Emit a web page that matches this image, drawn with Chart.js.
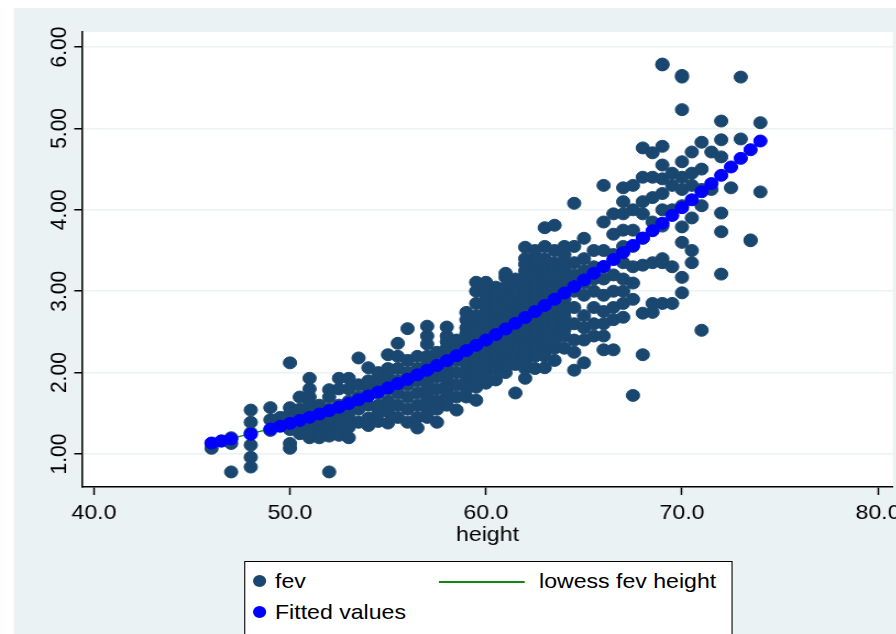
<!DOCTYPE html>
<html>
<head>
<meta charset="utf-8">
<title>fev vs height</title>
<script src="https://cdn.jsdelivr.net/npm/chart.js@4/dist/chart.umd.min.js"></script>
<style>
  html, body { margin: 0; padding: 0; background: #fff; width: 896px; height: 634px; overflow: hidden; }
  /* the whole picture is a little wider than tall, so stretch the drawing */
  #frame { position: absolute; left: 0; top: 0; width: 815px; height: 634px;
           transform: scaleX(1.1); transform-origin: 0 0;
           font-family: "Liberation Sans", Arial, sans-serif; color: #000; }
  #chart { position: absolute; left: 0; top: 0; }
  .key { position: absolute; left: 222px; top: 561px; width: 444px; height: 120px;
         background: #fff; border: 1.5px solid #000; box-sizing: border-box; }
  .key span { position: absolute; font-size: 21px; line-height: 24px; white-space: nowrap; }
  .dot { position: absolute; width: 12px; height: 12px; border-radius: 50%; }
  .line { position: absolute; height: 1.5px; background: #118811; }
</style>
</head>
<body>
<div id="frame">
  <canvas id="chart" width="815" height="634"></canvas>
  <div class="key">
    <div class="dot" style="left:7px; top:13px; background:#1a476f;"></div>
    <span style="left:27px; top:7px;">fev</span>
    <div class="line" style="left:176px; top:19px; width:78px;"></div>
    <span style="left:267px; top:7px;">lowess fev height</span>
    <div class="dot" style="left:7px; top:44px; background:#0000ff;"></div>
    <span style="left:27px; top:38px;">Fitted values</span>
  </div>
</div>
<script>
//======================================================================
// Data: fev by height, fitted values, lowess line.
//======================================================================

// Heights (inches) that have points.
var colHeight = [46, 46.5, 47, 48, 49, 49.5, 50, 50.5, 51, 51.5, 52, 52.5, 53, 53.5,
  54, 54.5, 55, 55.5, 56, 56.5, 57, 57.5, 58, 58.5, 59, 59.5, 60, 60.5, 61, 61.5,
  62, 62.5, 63, 63.5, 64, 64.5, 65, 65.5, 66, 66.5, 67, 67.5, 68, 68.5, 69, 69.5,
  70, 70.5, 71, 71.5, 72, 72.5, 73, 73.5, 74];

// fev values seen in each height column (same order as colHeight).
var colFev = [
  [1.07, 1.13],
  [1.16],
  [0.78, 1.13, 1.20],
  [0.84, 0.96, 1.11, 1.26, 1.39, 1.54],
  [1.29, 1.42, 1.57],
  [1.35, 1.45],
  [1.07, 1.13, 1.30, 1.38, 1.50, 1.57, 2.12],
  [1.25, 1.30, 1.40, 1.45, 1.55, 1.70],
  [1.20, 1.30, 1.40, 1.50, 1.62, 1.70, 1.80, 1.93],
  [1.20, 1.30, 1.35, 1.45, 1.60],
  [0.78, 1.22, 1.29, 1.35, 1.45, 1.55, 1.70, 1.79],
  [1.23, 1.35, 1.45, 1.60, 1.80, 1.93],
  [1.20, 1.33, 1.45, 1.55, 1.65, 1.80, 1.93],
  [1.39, 1.55, 1.70, 1.85, 2.18],
  [1.35, 1.44, 1.60, 1.75, 1.82, 1.90, 2.06],
  [1.40, 1.50, 1.60, 1.75, 1.90, 2.00],
  [1.38, 1.52, 1.65, 1.80, 1.95, 2.05, 2.22],
  [1.45, 1.60, 1.75, 1.90, 2.05, 2.20, 2.36],
  [1.39, 1.55, 1.70, 1.85, 2.00, 2.15, 2.54],
  [1.32, 1.45, 1.60, 1.75, 1.90, 2.05, 2.20],
  [1.45, 1.55, 1.65, 1.73, 1.80, 1.88, 1.95, 2.03, 2.10, 2.20, 2.35, 2.45, 2.57],
  [1.39, 1.55, 1.65, 1.80, 1.95, 2.05, 2.15, 2.25],
  [1.60, 1.70, 1.78, 1.85, 1.93, 2.00, 2.08, 2.15, 2.23, 2.30, 2.38, 2.45, 2.56],
  [1.54, 1.70, 1.85, 2.00, 2.15, 2.30, 2.40],
  [1.70, 1.80, 1.88, 1.95, 2.02, 2.10, 2.18, 2.25, 2.33, 2.40, 2.48, 2.55, 2.65, 2.74],
  [1.66, 1.82, 1.95, 2.03, 2.10, 2.18, 2.25, 2.33, 2.40, 2.48, 2.55, 2.63, 2.70, 2.85,
   3.00, 3.11],
  [1.87, 2.00, 2.08, 2.15, 2.23, 2.30, 2.38, 2.45, 2.53, 2.60, 2.68, 2.75, 2.83, 2.90,
   2.98, 3.05, 3.11],
  [1.91, 2.05, 2.13, 2.20, 2.28, 2.35, 2.43, 2.50, 2.58, 2.65, 2.73, 2.80, 2.88, 2.95,
   3.05],
  [2.00, 2.08, 2.15, 2.23, 2.30, 2.38, 2.45, 2.53, 2.60, 2.68, 2.75, 2.83, 2.90, 2.98,
   3.05, 3.17, 3.22],
  [1.75, 2.10, 2.18, 2.25, 2.33, 2.40, 2.48, 2.55, 2.63, 2.70, 2.78, 2.85, 2.93, 3.00,
   3.08, 3.15],
  [1.93, 2.05, 2.13, 2.20, 2.28, 2.35, 2.43, 2.50, 2.58, 2.65, 2.73, 2.80, 2.88, 2.95,
   3.03, 3.10, 3.18, 3.25, 3.33, 3.40, 3.54],
  [2.05, 2.20, 2.28, 2.35, 2.43, 2.50, 2.58, 2.65, 2.73, 2.80, 2.88, 2.95, 3.03, 3.10,
   3.18, 3.25, 3.33, 3.40, 3.50],
  [2.06, 2.20, 2.28, 2.35, 2.43, 2.50, 2.58, 2.65, 2.73, 2.80, 2.88, 2.95, 3.03, 3.10,
   3.18, 3.25, 3.33, 3.40, 3.55, 3.78],
  [2.15, 2.30, 2.38, 2.45, 2.53, 2.60, 2.68, 2.75, 2.83, 2.90, 2.98, 3.05, 3.13, 3.20,
   3.28, 3.35, 3.50, 3.81],
  [2.30, 2.45, 2.53, 2.60, 2.68, 2.75, 2.83, 2.90, 2.98, 3.05, 3.13, 3.20, 3.28, 3.35,
   3.45, 3.55],
  [2.03, 2.25, 2.40, 2.60, 2.80, 3.00, 3.20, 3.35, 3.55, 4.08],
  [2.12, 2.40, 2.55, 2.70, 2.95, 3.10, 3.25, 3.40, 3.65],
  [2.45, 2.60, 2.80, 3.00, 3.15, 3.30, 3.50],
  [2.28, 2.45, 2.60, 2.75, 2.95, 3.15, 3.30, 3.50, 3.85, 4.30],
  [2.28, 2.65, 2.80, 3.00, 3.20, 3.45, 3.70, 3.95],
  [2.68, 2.85, 3.00, 3.15, 3.35, 3.55, 3.75, 3.95, 4.10, 4.27],
  [1.72, 2.90, 3.10, 3.30, 3.55, 3.75, 4.00, 4.30],
  [2.22, 2.73, 3.32, 3.65, 3.95, 4.10, 4.40, 4.76],
  [2.74, 2.85, 3.35, 3.85, 4.15, 4.40, 4.70],
  [2.85, 3.35, 3.40, 3.80, 4.00, 4.20, 4.38, 4.55, 4.78, 5.78, 5.79],
  [2.85, 3.30, 4.00, 4.30, 4.45],
  [2.98, 3.17, 3.60, 3.79, 4.05, 4.25, 4.40, 4.59, 5.23, 5.63, 5.65],
  [3.35, 3.50, 3.90, 4.30, 4.45, 4.71],
  [2.52, 4.05, 4.25, 4.50, 4.83],
  [4.25, 4.71],
  [3.21, 3.73, 3.96, 4.65, 4.86, 5.09],
  [4.27],
  [4.87, 5.63],
  [3.62, 3.63],
  [4.22, 5.07]
];

// Fitted values at each height in colHeight.
var fitFev = [1.135, 1.160, 1.186, 1.243, 1.307, 1.341, 1.376, 1.413, 1.451, 1.491,
  1.533, 1.575, 1.620, 1.666, 1.713, 1.762, 1.813, 1.865, 1.918, 1.973, 2.030, 2.088,
  2.147, 2.208, 2.271, 2.335, 2.400, 2.467, 2.536, 2.606, 2.677, 2.750, 2.825, 2.901,
  2.978, 3.057, 3.138, 3.220, 3.303, 3.388, 3.475, 3.563, 3.653, 3.743, 3.836, 3.931,
  4.026, 4.123, 4.222, 4.322, 4.423, 4.526, 4.632, 4.738, 4.845];

// Lowess smooth (mostly hidden under the fitted dots).
var lowessHeight = [46, 47, 48, 49, 50, 52, 54, 56, 58, 60, 62, 64, 66, 68, 70, 72, 74];
var lowessFev = [1.13, 1.19, 1.25, 1.31, 1.38, 1.53, 1.72, 1.93, 2.15, 2.41, 2.68, 2.98,
  3.31, 3.66, 4.02, 4.42, 4.84];

// Axis ticks.
var xTicks = [40, 50, 60, 70, 80];
var yTicks = [1, 2, 3, 4, 5, 6];

var NAVY = '#1a476f';
var BLUE = '#0000ff';
var GREEN = '#118811';
var BACK = '#eaf2f3';
var STRETCH = 1.1;

// Build point lists from the arrays above.
var fevPoints = [];
colHeight.forEach(function(h, i) {
  colFev[i].forEach(function(v) { fevPoints.push({ x: h, y: v }); });
});
var fitPoints = colHeight.map(function(h, i) { return { x: h, y: fitFev[i] }; });
var lowessPoints = lowessHeight.map(function(h, i) { return { x: h, y: lowessFev[i] }; });

// Grey outer area, white plot region, rotated y labels.
var framePlugin = {
  id: 'frame',
  beforeDraw: function(chart) {
    var ctx = chart.ctx, a = chart.chartArea;
    ctx.save();
    ctx.fillStyle = '#fff';
    ctx.fillRect(0, 0, chart.width, chart.height);
    ctx.fillStyle = BACK;
    ctx.fillRect(14 / STRETCH, 8, chart.width, chart.height);
    ctx.fillStyle = '#fff';
    ctx.fillRect(a.left, a.top, a.right - a.left, a.bottom - a.top);
    ctx.restore();
  },
  afterDraw: function(chart) {
    var ctx = chart.ctx, y = chart.scales.y;
    ctx.save();
    ctx.font = '21px "Liberation Sans", Arial, sans-serif';
    ctx.fillStyle = '#000';
    ctx.textAlign = 'center';
    ctx.textBaseline = 'middle';
    y.ticks.forEach(function(t) {
      ctx.save();
      ctx.translate(y.right - 20, y.getPixelForValue(t.value));
      ctx.rotate(-Math.PI / 2);
      ctx.fillText(t.value.toFixed(2), 0, 0);
      ctx.restore();
    });
    ctx.restore();
  }
};

new Chart(document.getElementById('chart'), {
  type: 'scatter',
  data: {
    datasets: [{
      label: 'Fitted values',
      data: fitPoints,
      order: 0,
      pointRadius: 6,
      borderWidth: 1,
      backgroundColor: BLUE,
      borderColor: BLUE
    }, {
      label: 'lowess fev height',
      data: lowessPoints,
      order: 1,
      showLine: true,
      pointRadius: 0,
      borderWidth: 1.3,
      borderColor: GREEN,
      backgroundColor: GREEN
    }, {
      label: 'fev',
      data: fevPoints,
      order: 2,
      pointRadius: 6,
      borderWidth: 1,
      backgroundColor: NAVY,
      borderColor: NAVY
    }]
  },
  options: {
    responsive: false,
    animation: false,
    devicePixelRatio: 1,
    layout: { autoPadding: false, padding: { left: 0, top: 32, right: 3.2, bottom: 88.5 } },
    plugins: { legend: { display: false }, tooltip: { enabled: false } },
    scales: {
      x: {
        type: 'linear',
        min: 39.388,
        max: 80.765,
        afterBuildTicks: function(s) { s.ticks = xTicks.map(function(v) { return { value: v }; }); },
        afterFit: function(s) {
          s.height = 58.5;
          // let the 80.0 label run off the edge instead of shrinking the plot
          s.paddingLeft = 0;
          s.paddingRight = 0;
        },
        grid: { drawOnChartArea: false, drawTicks: true, tickLength: 8, tickColor: '#000', tickWidth: 1.5 },
        border: { display: true, color: '#000', width: 1.5 },
        ticks: {
          color: '#000',
          padding: 7.5,
          maxRotation: 0,
          autoSkip: false,
          font: { family: '"Liberation Sans", Arial, sans-serif', size: 21, lineHeight: 1 },
          callback: function(v) { return Number(v).toFixed(1); }
        },
        title: {
          display: true,
          text: 'height',
          color: '#000',
          padding: 0,
          font: { family: '"Liberation Sans", Arial, sans-serif', size: 21, lineHeight: 1 }
        }
      },
      y: {
        type: 'linear',
        min: 0.595,
        max: 6.184,
        afterBuildTicks: function(s) { s.ticks = yTicks.map(function(v) { return { value: v }; }); },
        afterFit: function(s) { s.width = 74.5; s.paddingTop = 0; s.paddingBottom = 0; },
        grid: { color: BACK, lineWidth: 1.5, drawTicks: true, tickLength: 7, tickColor: '#000', tickWidth: 1.5 },
        border: { display: true, color: '#000', width: 1.5 },
        ticks: { display: false }
      }
    }
  },
  plugins: [framePlugin]
});
</script>
</body>
</html>
